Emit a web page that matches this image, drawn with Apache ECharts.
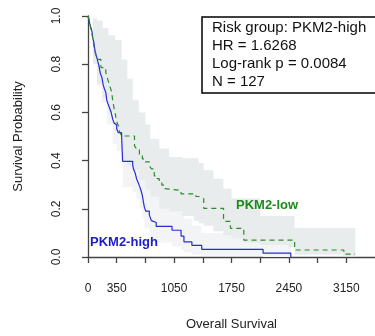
<!DOCTYPE html>
<html>
<head>
<meta charset="utf-8">
<script src="https://cdn.jsdelivr.net/npm/echarts@6/dist/echarts.min.js"></script>
<style>
  html, body { margin: 0; padding: 0; background: #fff; }
  #chart { width: 375px; height: 336px; }
</style>
</head>
<body>
<div id="chart"></div>
<script>
// Kaplan-Meier: PKM2-high vs PKM2-low
const highTime = [0, 10, 22, 35, 48, 60, 72, 85, 97, 109, 121, 133, 150, 169, 185, 200, 217, 229, 245, 262, 280, 302, 318, 335, 350, 370, 410, 422, 545, 555, 575, 592, 610, 628, 645, 663, 675, 688, 705, 748, 772, 790, 832, 1025, 1135, 1170, 1267, 1387, 2135, 2473]
const highSurv = [1.0, 0.984, 0.968, 0.952, 0.937, 0.905, 0.889, 0.857, 0.841, 0.825, 0.81, 0.794, 0.762, 0.746, 0.714, 0.698, 0.683, 0.651, 0.635, 0.619, 0.603, 0.571, 0.556, 0.548, 0.532, 0.516, 0.5, 0.397, 0.381, 0.365, 0.349, 0.325, 0.31, 0.294, 0.278, 0.255, 0.23, 0.206, 0.19, 0.175, 0.151, 0.143, 0.127, 0.111, 0.087, 0.063, 0.048, 0.032, 0.016, 0.0]

const lowTime = [0, 15, 30, 50, 72, 90, 109, 157, 217, 241, 253, 275, 290, 302, 320, 338, 350, 374, 386, 410, 567, 591, 627, 663, 688, 748, 772, 808, 844, 869, 900, 929, 953, 1134, 1315, 1351, 1411, 1653, 1737, 1900, 2520, 3120, 3257]
const lowSurv = [1.0, 0.984, 0.953, 0.922, 0.875, 0.844, 0.82, 0.786, 0.765, 0.737, 0.724, 0.7, 0.683, 0.646, 0.615, 0.584, 0.56, 0.543, 0.519, 0.502, 0.461, 0.449, 0.42, 0.407, 0.395, 0.379, 0.366, 0.337, 0.325, 0.313, 0.298, 0.284, 0.276, 0.262, 0.251, 0.243, 0.202, 0.148, 0.119, 0.07, 0.029, 0.012, 0.012]

// 95% CI bands (step)
const lowCiTime = [0, 60, 110, 180, 250, 330, 410, 480, 545, 620, 700, 760, 870, 990, 1150, 1290, 1350, 1410, 1530, 1650, 1750, 1900, 2100, 2440, 2520, 3110, 3260]
const lowCiUpper = [1.0, 0.99, 0.98, 0.95, 0.92, 0.9, 0.82, 0.74, 0.65, 0.6, 0.55, 0.49, 0.45, 0.415, 0.41, 0.41, 0.39, 0.36, 0.325, 0.284, 0.243, 0.243, 0.17, 0.17, 0.12, 0.12, 0.12]
const lowCiLower = [1.0, 0.8, 0.72, 0.66, 0.6, 0.52, 0.4, 0.38, 0.36, 0.32, 0.28, 0.25, 0.2, 0.19, 0.17, 0.15, 0.14, 0.13, 0.107, 0.09, 0.078, 0.058, 0.05, 0.04, 0.01, 0.003, 0.003]

const highCiTime = [0, 60, 110, 170, 230, 300, 350, 410, 422, 545, 590, 630, 665, 690, 750, 775, 830, 1025, 1135, 1170, 1265, 1385, 2135, 2473]
const highCiUpper = [1.0, 0.96, 0.91, 0.86, 0.78, 0.72, 0.67, 0.63, 0.52, 0.5, 0.47, 0.43, 0.39, 0.33, 0.3, 0.27, 0.25, 0.22, 0.2, 0.16, 0.13, 0.1, 0.06, 0.06]
const highCiLower = [1.0, 0.8, 0.71, 0.64, 0.55, 0.47, 0.44, 0.4, 0.29, 0.27, 0.24, 0.2, 0.16, 0.12, 0.09, 0.07, 0.06, 0.045, 0.03, 0.02, 0.01, 0.005, 0.0, 0.0]

const xTickLabels = [0, 350, 1050, 1750, 2450, 3150]
const statsLines = ['Risk group: PKM2-high', 'HR = 1.6268', 'Log-rank p = 0.0084', 'N = 127']

const BLUE = '#2a2ad8'
const GREEN = '#2e8b2e'
const AXIS = '#444'

function pairs(t, s) { return t.map((v, i) => [v, s[i]]) }

// step band as one polygon, through the cartesian coord system
function bandRender(times, lower, upper, fill) {
  return function (params, api) {
    const pts = []
    const n = times.length
    for (let i = 0; i < n; i++) {
      pts.push(api.coord([times[i], upper[i]]))
      if (i < n - 1) pts.push(api.coord([times[i + 1], upper[i]]))
    }
    for (let i = n - 1; i >= 0; i--) {
      if (i < n - 1) pts.push(api.coord([times[i + 1], lower[i]]))
      pts.push(api.coord([times[i], lower[i]]))
    }
    return { type: 'polygon', shape: { points: pts }, style: { fill: fill } }
  }
}

const chart = echarts.init(document.getElementById('chart'), null, { renderer: 'canvas' })
chart.setOption({
  animation: false,
  backgroundColor: '#fff',
  textStyle: { fontFamily: '"Liberation Sans", Arial, sans-serif' },
  grid: { left: 88, right: -3, top: 16, bottom: 77 },
  title: {
    text: statsLines.join('\n'),
    left: 202, top: 17,
    borderColor: '#000', borderWidth: 1.5,
    padding: [2, 11, 2, 10],
    textStyle: { fontSize: 15, fontWeight: 'normal', color: '#111', lineHeight: 18,
      fontFamily: '"Liberation Sans", Arial, sans-serif' }
  },
  xAxis: {
    type: 'value', min: 0, max: 3500, interval: 350,
    offset: 12,
    name: 'Overall Survival', nameLocation: 'middle', nameGap: 49,
    nameTextStyle: { fontSize: 13, color: '#222' },
    axisLine: { show: true, lineStyle: { color: AXIS, width: 1.3 } },
    axisTick: { show: true, length: 6, lineStyle: { color: AXIS, width: 1.3 } },
    axisLabel: { fontSize: 12, color: '#222', margin: 14,
      showMinLabel: true, showMaxLabel: false,
      formatter: v => xTickLabels.includes(v) ? String(v) : '' },
    splitLine: { show: false }
  },
  yAxis: {
    type: 'value', min: 0, max: 1, interval: 0.2,
    offset: 11,
    name: 'Survival Probability', nameLocation: 'middle', nameGap: 52,
    nameTextStyle: { fontSize: 13, color: '#222' },
    axisLine: { show: true, lineStyle: { color: AXIS, width: 1.3 } },
    axisTick: { show: true, length: 6, lineStyle: { color: AXIS, width: 1.3 } },
    axisLabel: { fontSize: 12, color: '#222', rotate: 90, margin: 14,
      formatter: v => v.toFixed(1) },
    splitLine: { show: false }
  },
  graphic: [
    { type: 'text', left: 90, top: 236, z: 10,
      style: { text: 'PKM2-high', fill: '#1c1ccc', font: 'bold 13px "Liberation Sans", Arial, sans-serif' } },
    { type: 'text', left: 236, top: 199, z: 10,
      style: { text: 'PKM2-low', fill: '#1d8a1d', font: 'bold 13px "Liberation Sans", Arial, sans-serif' } }
  ],
  series: [
    { type: 'custom', name: 'high CI', data: [[0, 1]], z: 1, silent: true, clip: true,
      renderItem: bandRender(highCiTime, highCiLower, highCiUpper, '#f2f4f5') },
    { type: 'custom', name: 'low CI', data: [[0, 1]], z: 2, silent: true, clip: true,
      renderItem: bandRender(lowCiTime, lowCiLower, lowCiUpper, '#e8ecec') },
    { type: 'line', name: 'PKM2-high', data: pairs(highTime, highSurv), step: 'end', z: 5,
      showSymbol: false, lineStyle: { color: BLUE, width: 1.2 } },
    { type: 'line', name: 'PKM2-low', data: pairs(lowTime, lowSurv), step: 'end', z: 6,
      showSymbol: false, lineStyle: { color: GREEN, width: 1.2, type: [5, 4] } }
  ]
})
</script>
</body>
</html>
